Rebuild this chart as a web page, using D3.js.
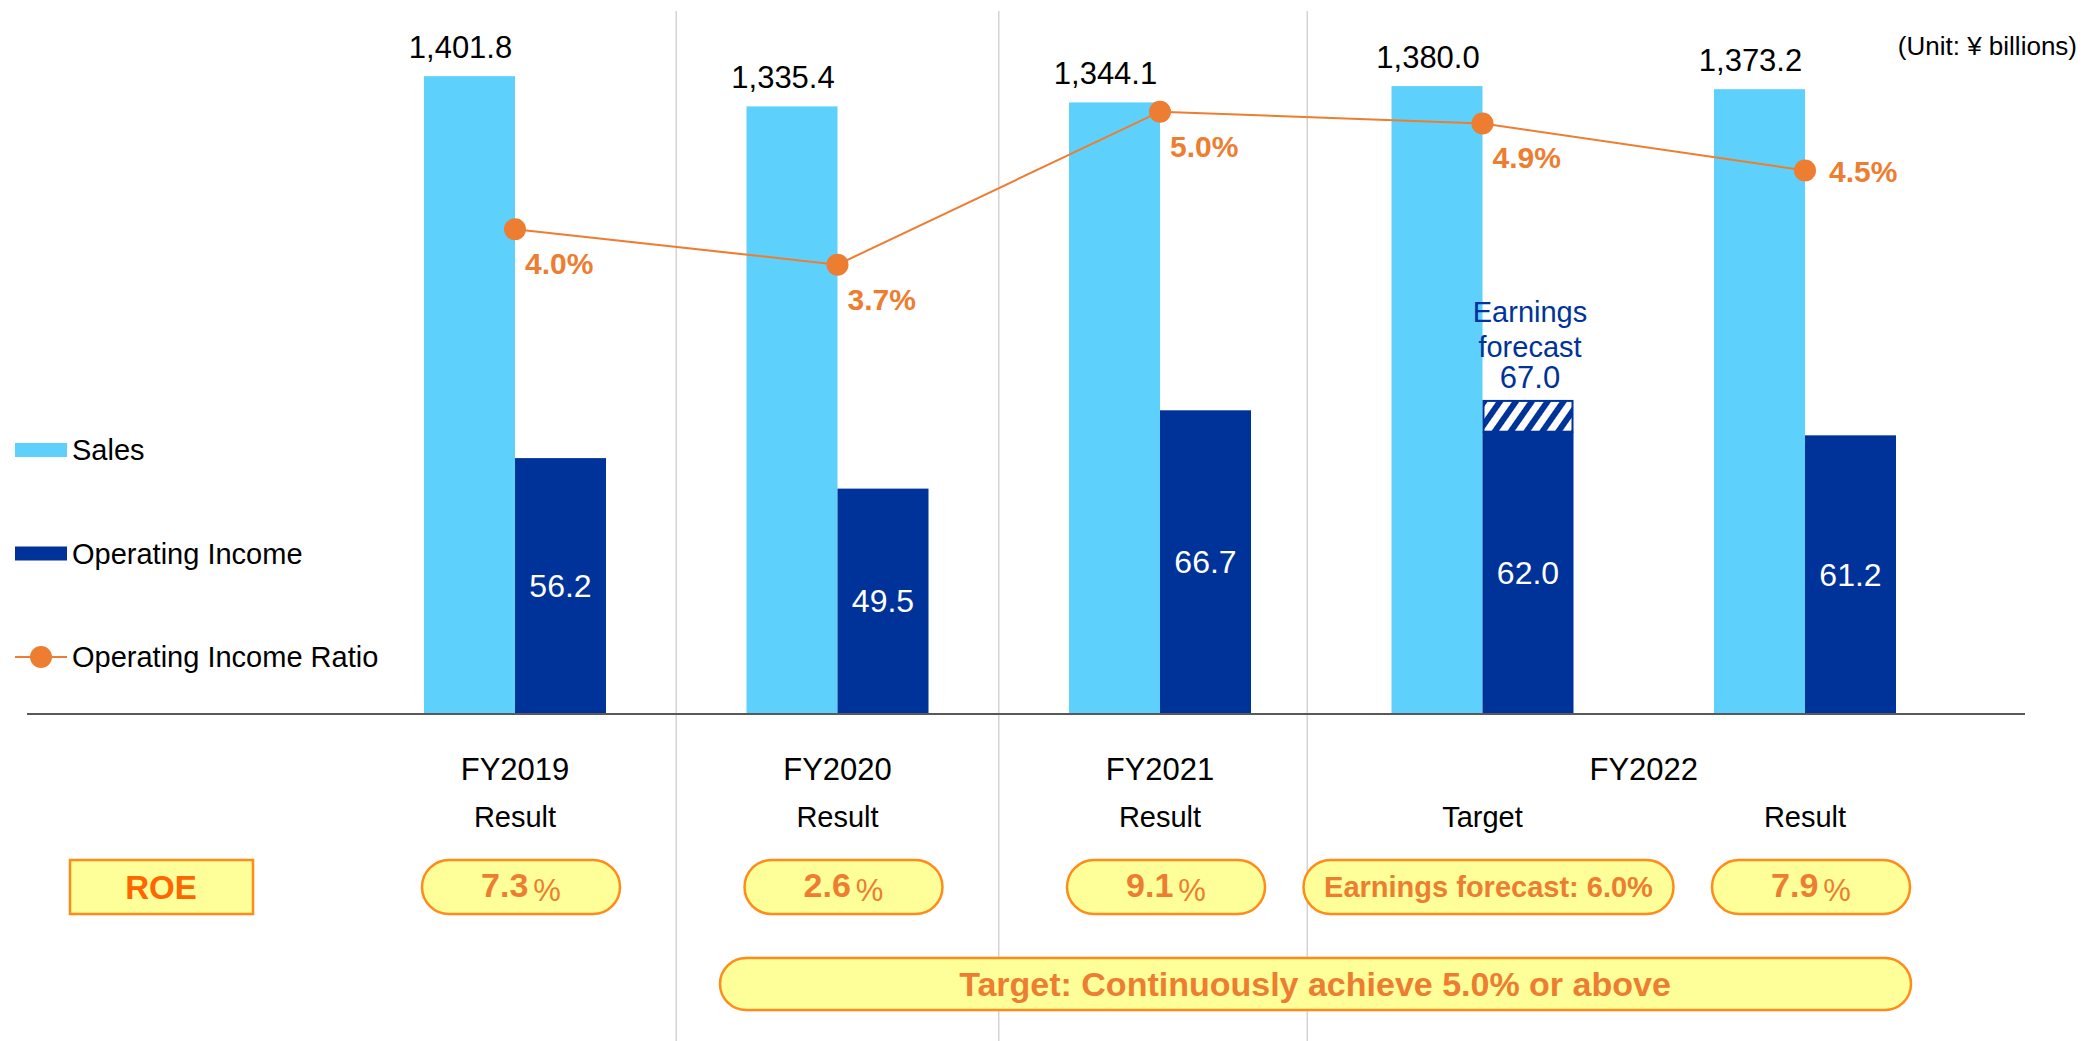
<!DOCTYPE html>
<html>
<head>
<meta charset="utf-8">
<script src="https://cdn.jsdelivr.net/npm/d3@7"></script>
<style>
  body { margin: 0; background: #fff; }
  svg { display: block; font-family: "Liberation Sans", Arial, sans-serif; }
</style>
</head>
<body>
<div id="chart"></div>
<script>
// chart data
const categories = ["FY2019", "FY2020", "FY2021", "FY2022 Target", "FY2022 Result"];
const yearLabels = ["FY2019", "FY2020", "FY2021", "FY2022"];
const subLabels = ["Result", "Result", "Result", "Target", "Result"];
const sales = [1401.8, 1335.4, 1344.1, 1380.0, 1373.2];
const opIncome = [56.2, 49.5, 66.7, 62.0, 61.2];
const opIncomeForecast = [null, null, null, 67.0, null];
const opRatio = [4.0, 3.7, 5.0, 4.9, 4.5];
const roe = [7.3, 2.6, 9.1, 6.0, 7.9];
const roeIsForecast = [false, false, false, true, false];
const roeTarget = "Target: Continuously achieve 5.0% or above";

const W = 2084, H = 1041;
const base = 714;
const barW = 91;

const cSales = "#5dd1fb";
const cOI = "#003399";
const cRatio = "#ed7d31";
const cPillFill = "#ffff99";
const cPillStroke = "#ff8c1a";

const svg = d3.select("#chart").append("svg")
    .attr("width", W)
    .attr("height", H);

// hatch pattern for the forecast part
const defs = svg.append("defs");
const pat = defs.append("pattern")
    .attr("id", "hatch")
    .attr("patternUnits", "userSpaceOnUse")
    .attr("width", 13).attr("height", 13)
    .attr("patternTransform", "rotate(35)");
pat.append("rect").attr("width", 13).attr("height", 13).attr("fill", "#fff");
pat.append("rect").attr("width", 6).attr("height", 13).attr("fill", cOI);

// scales
const x = d3.scalePoint().domain(categories).range([515, 1805]);
const ySales = d3.scaleLinear().domain([0, 1600]).range([base, -14]);
const yOI = d3.scaleLinear().domain([0, 150]).range([base, 31]);
const yRatio = d3.scaleLinear().domain([0, 6]).range([700, -6]);

// group dividers
const dividerIdx = [1, 2, 3];
svg.selectAll(".divider")
    .data(dividerIdx)
    .enter().append("line")
    .attr("class", "divider")
    .attr("x1", i => (x(categories[i - 1]) + x(categories[i])) / 2 - (i === 3 ? 14 : 0))
    .attr("x2", i => (x(categories[i - 1]) + x(categories[i])) / 2 - (i === 3 ? 14 : 0))
    .attr("y1", 11).attr("y2", H)
    .attr("stroke", "#d4d4d4")
    .attr("stroke-width", 1.5);

// sales bars
svg.selectAll(".sales")
    .data(sales)
    .enter().append("rect")
    .attr("class", "sales")
    .attr("x", (d, i) => x(categories[i]) - barW)
    .attr("y", d => ySales(d))
    .attr("width", barW)
    .attr("height", d => base - ySales(d))
    .attr("fill", cSales);

svg.selectAll(".sales-label")
    .data(sales)
    .enter().append("text")
    .attr("x", (d, i) => x(categories[i]) - barW / 2 - 9)
    .attr("y", d => ySales(d) - 18)
    .attr("text-anchor", "middle")
    .style("font-size", "31px")
    .attr("fill", "#000")
    .text(d => d3.format(",.1f")(d));

// operating income bars
svg.selectAll(".oi")
    .data(opIncome)
    .enter().append("rect")
    .attr("class", "oi")
    .attr("x", (d, i) => x(categories[i]))
    .attr("y", d => yOI(d))
    .attr("width", barW)
    .attr("height", d => base - yOI(d))
    .attr("fill", cOI);

svg.selectAll(".oi-label")
    .data(opIncome)
    .enter().append("text")
    .attr("x", (d, i) => x(categories[i]) + barW / 2)
    .attr("y", d => (yOI(d) + base) / 2 + 11)
    .attr("text-anchor", "middle")
    .style("font-size", "32px")
    .attr("fill", "#fff")
    .text(d => d3.format(".1f")(d));

// forecast (hatched) part
opIncomeForecast.forEach((f, i) => {
    if (f == null) return;
    const cx = x(categories[i]);
    const top = yOI(f) - 8;
    svg.append("rect")
        .attr("x", cx + 1).attr("y", top)
        .attr("width", barW - 2)
        .attr("height", yOI(opIncome[i]) - top)
        .attr("fill", "url(#hatch)")
        .attr("stroke", cOI)
        .attr("stroke-width", 2);
    const t = svg.append("text")
        .attr("text-anchor", "middle")
        .attr("fill", cOI);
    t.append("tspan").attr("x", cx + barW / 2 + 2).attr("y", top - 79)
        .style("font-size", "29px").text("Earnings");
    t.append("tspan").attr("x", cx + barW / 2 + 2).attr("y", top - 44)
        .style("font-size", "29px").text("forecast");
    t.append("tspan").attr("x", cx + barW / 2 + 2).attr("y", top - 13)
        .style("font-size", "31px").text(d3.format(".1f")(f));
});

// axis baseline
svg.append("line")
    .attr("x1", 27).attr("x2", 2025)
    .attr("y1", base).attr("y2", base)
    .attr("stroke", "#595959")
    .attr("stroke-width", 2);

// operating income ratio line
const line = d3.line()
    .x((d, i) => x(categories[i]))
    .y(d => yRatio(d));

svg.append("path")
    .datum(opRatio)
    .attr("d", line)
    .attr("fill", "none")
    .attr("stroke", cRatio)
    .attr("stroke-width", 2);

svg.selectAll(".dot")
    .data(opRatio)
    .enter().append("circle")
    .attr("cx", (d, i) => x(categories[i]))
    .attr("cy", d => yRatio(d))
    .attr("r", 11)
    .attr("fill", cRatio);

svg.selectAll(".ratio-label")
    .data(opRatio)
    .enter().append("text")
    .attr("x", (d, i) => x(categories[i]) + (i === opRatio.length - 1 ? 24 : 10))
    .attr("y", (d, i) => yRatio(d) + (i === opRatio.length - 1 ? 11 : 45))
    .style("font-size", "30px")
    .style("font-weight", "bold")
    .attr("fill", cRatio)
    .text(d => d3.format(".1f")(d) + "%");

// unit
svg.append("text")
    .attr("x", 2077).attr("y", 55)
    .attr("text-anchor", "end")
    .style("font-size", "26px")
    .text("(Unit: ¥ billions)");

// legend
const legend = [
    { name: "Sales", type: "bar", color: cSales },
    { name: "Operating Income", type: "bar", color: cOI },
    { name: "Operating Income Ratio", type: "line", color: cRatio }
];
const lg = svg.selectAll(".legend")
    .data(legend)
    .enter().append("g")
    .attr("transform", (d, i) => `translate(15, ${450 + i * 103.5})`);
lg.each(function(d) {
    const g = d3.select(this);
    if (d.type === "bar") {
        g.append("rect").attr("x", 0).attr("y", -7).attr("width", 52).attr("height", 14).attr("fill", d.color);
    } else {
        g.append("line").attr("x1", 0).attr("x2", 52).attr("y1", 0).attr("y2", 0)
            .attr("stroke", d.color).attr("stroke-width", 2);
        g.append("circle").attr("cx", 26).attr("cy", 0).attr("r", 11).attr("fill", d.color);
    }
    g.append("text").attr("x", 57).attr("y", 10)
        .style("font-size", "29px").text(d.name);
});

// category labels
const yearPos = [0, 1, 2].map(i => x(categories[i]))
    .concat([(x(categories[3]) + x(categories[4])) / 2]);
svg.selectAll(".year")
    .data(yearLabels)
    .enter().append("text")
    .attr("x", (d, i) => yearPos[i])
    .attr("y", 780)
    .attr("text-anchor", "middle")
    .style("font-size", "31px")
    .text(d => d);

svg.selectAll(".sub")
    .data(subLabels)
    .enter().append("text")
    .attr("x", (d, i) => x(categories[i]))
    .attr("y", 827)
    .attr("text-anchor", "middle")
    .style("font-size", "29px")
    .text(d => d);

// ROE row
svg.append("rect")
    .attr("x", 70).attr("y", 860)
    .attr("width", 183).attr("height", 54)
    .attr("fill", cPillFill)
    .attr("stroke", cPillStroke)
    .attr("stroke-width", 2.5);
svg.append("text")
    .attr("x", 161).attr("y", 899)
    .attr("text-anchor", "middle")
    .style("font-size", "33px")
    .style("font-weight", "bold")
    .attr("fill", "#ff6600")
    .text("ROE");

const pillH = 54;
roe.forEach((v, i) => {
    const cx = x(categories[i]) + 6;
    const pw = roeIsForecast[i] ? 370 : 198;
    svg.append("rect")
        .attr("x", cx - pw / 2).attr("y", 860)
        .attr("width", pw).attr("height", pillH)
        .attr("rx", pillH / 2).attr("ry", pillH / 2)
        .attr("fill", cPillFill)
        .attr("stroke", cPillStroke)
        .attr("stroke-width", 2.5);
    const t = svg.append("text")
        .attr("x", cx).attr("y", 897)
        .attr("text-anchor", "middle")
        .attr("fill", cRatio)
        .style("font-weight", "bold");
    if (roeIsForecast[i]) {
        t.style("font-size", "29px").text("Earnings forecast: " + d3.format(".1f")(v) + "%");
    } else {
        t.append("tspan").style("font-size", "34px").text(d3.format(".1f")(v));
        t.append("tspan").attr("dx", 5).attr("dy", 4)
            .style("font-size", "31px").style("font-weight", "normal").text("%");
    }
});

// long target pill
svg.append("rect")
    .attr("x", 720).attr("y", 958)
    .attr("width", 1191).attr("height", 52)
    .attr("rx", 26).attr("ry", 26)
    .attr("fill", cPillFill)
    .attr("stroke", cPillStroke)
    .attr("stroke-width", 2.5);
svg.append("text")
    .attr("x", 1315).attr("y", 996)
    .attr("text-anchor", "middle")
    .style("font-size", "34px")
    .style("font-weight", "bold")
    .attr("fill", cRatio)
    .text(roeTarget);
</script>
</body>
</html>
